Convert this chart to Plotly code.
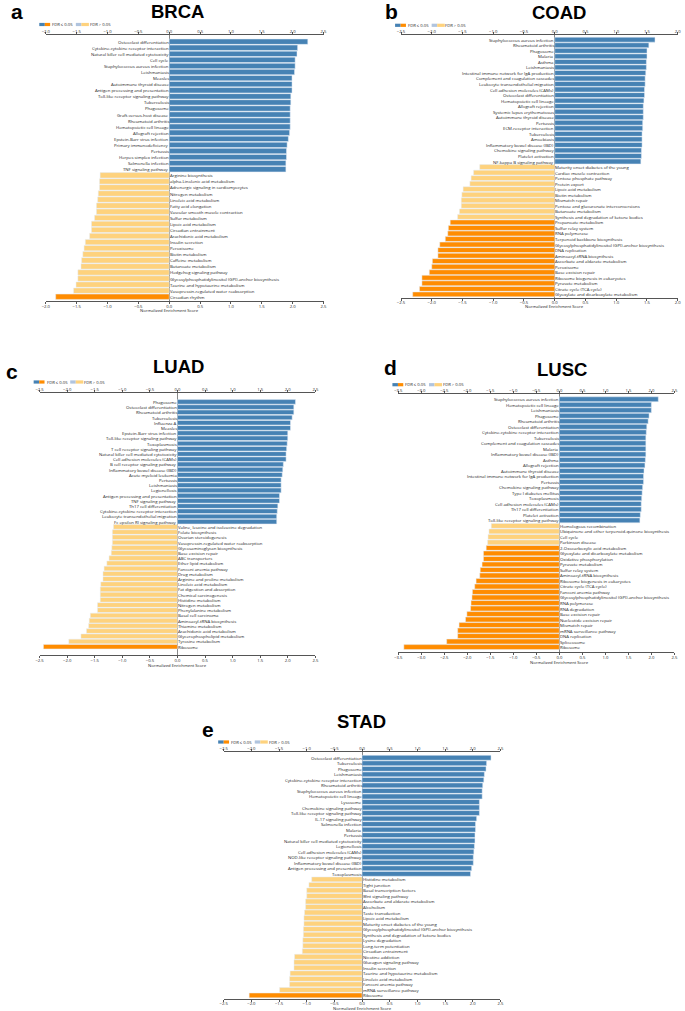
import plotly.graph_objects as go

W, H = 685, 1011
FONT = "Open Sans"
BLUE, LBLUE, ORANGE, LORANGE = "#4682B4", "#B0C4DE", "#FF8C00", "#FED27D"

# ---------------- data ----------------
brca_terms = ["Osteoclast differentiation", "Cytokine-cytokine receptor interaction",
              "Natural killer cell mediated cytotoxicity", "Cell cycle", "Staphylococcus aureus infection",
              "Leishmaniasis", "Measles", "Autoimmune thyroid disease", "Antigen processing and presentation",
              "Toll-like receptor signaling pathway", "Tuberculosis", "Phagosome", "Graft-versus-host disease",
              "Rheumatoid arthritis", "Hematopoietic cell lineage", "Allograft rejection",
              "Epstein-Barr virus infection", "Primary immunodeficiency", "Pertussis", "Herpes simplex infection",
              "Salmonella infection", "TNF signaling pathway", "Arginine biosynthesis",
              "alpha-Linolenic acid metabolism", "Adrenergic signaling in cardiomyocytes", "Nitrogen metabolism",
              "Linoleic acid metabolism", "Fatty acid elongation", "Vascular smooth muscle contraction",
              "Sulfur metabolism", "Lipoic acid metabolism", "Circadian entrainment", "Arachidonic acid metabolism",
              "Insulin secretion", "Peroxisome", "Biotin metabolism", "Caffeine metabolism", "Butanoate metabolism",
              "Hedgehog signaling pathway", "Glycosylphosphatidylinositol (GPI)-anchor biosynthesis",
              "Taurine and hypotaurine metabolism", "Vasopressin-regulated water reabsorption", "Circadian rhythm"]
brca_nes = [2.245, 2.08, 2.07, 2.04, 2.04, 2.03, 1.99, 1.99, 1.99, 1.97, 1.97, 1.96, 1.96, 1.96, 1.96, 1.95,
            1.93, 1.91, 1.90, 1.90, 1.89, 1.89, -1.12, -1.13, -1.13, -1.15, -1.16, -1.18, -1.18, -1.21, -1.26,
            -1.26, -1.29, -1.36, -1.38, -1.40, -1.42, -1.43, -1.48, -1.48, -1.51, -1.55, -1.84]
brca_sig = [1] * 22 + [0] * 20 + [1]

coad_terms = ["Staphylococcus aureus infection", "Rheumatoid arthritis", "Phagosome", "Malaria", "Asthma",
              "Leishmaniasis", "Intestinal immune network for IgA production", "Complement and coagulation cascades",
              "Leukocyte transendothelial migration", "Cell adhesion molecules (CAMs)", "Osteoclast differentiation",
              "Hematopoietic cell lineage", "Allograft rejection", "Systemic lupus erythematosus",
              "Autoimmune thyroid disease", "Pertussis", "ECM-receptor interaction", "Tuberculosis", "Amoebiasis",
              "Inflammatory bowel disease (IBD)", "Chemokine signaling pathway", "Platelet activation",
              "NF-kappa B signaling pathway", "Maturity onset diabetes of the young", "Cardiac muscle contraction",
              "Pentose phosphate pathway", "Protein export", "Lipoic acid metabolism", "Biotin metabolism",
              "Mismatch repair", "Pentose and glucuronate interconversions", "Butanoate metabolism",
              "Synthesis and degradation of ketone bodies", "Propanoate metabolism", "Sulfur relay system",
              "RNA polymerase", "Terpenoid backbone biosynthesis",
              "Glycosylphosphatidylinositol (GPI)-anchor biosynthesis", "DNA replication",
              "Aminoacyl-tRNA biosynthesis", "Ascorbate and aldarate metabolism", "Peroxisome",
              "Base excision repair", "Ribosome biogenesis in eukaryotes", "Pyruvate metabolism",
              "Citrate cycle (TCA cycle)", "Glyoxylate and dicarboxylate metabolism"]
coad_nes = [1.63, 1.53, 1.50, 1.50, 1.49, 1.49, 1.48, 1.47, 1.47, 1.46, 1.46, 1.45, 1.44, 1.44, 1.44, 1.43,
            1.43, 1.42, 1.42, 1.42, 1.41, 1.41, 1.40, -1.22, -1.32, -1.36, -1.38, -1.49, -1.51, -1.52, -1.52,
            -1.55, -1.58, -1.70, -1.73, -1.74, -1.78, -1.87, -1.90, -1.90, -1.99, -2.00, -2.04, -2.16, -2.16,
            -2.20, -2.31]
coad_sig = [1] * 23 + [0] * 10 + [1] * 14

luad_terms = ["Phagosome", "Osteoclast differentiation", "Rheumatoid arthritis", "Tuberculosis", "Influenza A",
              "Measles", "Epstein-Barr virus infection", "Toll-like receptor signaling pathway", "Toxoplasmosis",
              "T cell receptor signaling pathway", "Natural killer cell mediated cytotoxicity",
              "Cell adhesion molecules (CAMs)", "B cell receptor signaling pathway",
              "Inflammatory bowel disease (IBD)", "Acute myeloid leukemia", "Pertussis", "Leishmaniasis",
              "Legionellosis", "Antigen processing and presentation", "TNF signaling pathway",
              "Th17 cell differentiation", "Cytokine-cytokine receptor interaction",
              "Leukocyte transendothelial migration", "Fc epsilon RI signaling pathway",
              "Valine, leucine and isoleucine degradation", "Folate biosynthesis", "Ovarian steroidogenesis",
              "Vasopressin-regulated water reabsorption", "Glycosaminoglycan biosynthesis", "Base excision repair",
              "ABC transporters", "Ether lipid metabolism", "Fanconi anemia pathway", "Drug metabolism",
              "Arginine and proline metabolism", "Linoleic acid metabolism", "Fat digestion and absorption",
              "Chemical carcinogenesis", "Histidine metabolism", "Nitrogen metabolism", "Phenylalanine metabolism",
              "Basal cell carcinoma", "Aminoacyl-tRNA biosynthesis", "Thiamine metabolism",
              "Arachidonic acid metabolism", "Glycerophospholipid metabolism", "Tyrosine metabolism", "Ribosome"]
luad_nes = [2.14, 2.11, 2.11, 2.08, 2.05, 2.05, 2.00, 2.00, 1.99, 1.98, 1.97, 1.97, 1.92, 1.91, 1.90, 1.88,
            1.88, 1.88, 1.85, 1.85, 1.82, 1.81, 1.80, 1.80, -1.16, -1.18, -1.18, -1.18, -1.19, -1.20, -1.24,
            -1.28, -1.33, -1.35, -1.35, -1.39, -1.40, -1.40, -1.40, -1.45, -1.45, -1.58, -1.60, -1.61, -1.65,
            -1.75, -1.97, -2.43]
luad_sig = [1] * 24 + [0] * 23 + [1]

lusc_terms = ["Staphylococcus aureus infection", "Hematopoietic cell lineage", "Leishmaniasis", "Phagosome",
              "Rheumatoid arthritis", "Osteoclast differentiation", "Cytokine-cytokine receptor interaction",
              "Tuberculosis", "Complement and coagulation cascades", "Malaria", "Inflammatory bowel disease (IBD)",
              "Asthma", "Allograft rejection", "Autoimmune thyroid disease",
              "Intestinal immune network for IgA production", "Pertussis", "Chemokine signaling pathway",
              "Type I diabetes mellitus", "Toxoplasmosis", "Cell adhesion molecules (CAMs)",
              "Th17 cell differentiation", "Platelet activation", "Toll-like receptor signaling pathway",
              "Homologous recombination", "Ubiquinone and other terpenoid-quinone biosynthesis", "Cell cycle",
              "Parkinson disease", "2-Oxocarboxylic acid metabolism", "Glyoxylate and dicarboxylate metabolism",
              "Oxidative phosphorylation", "Pyruvate metabolism", "Sulfur relay system",
              "Aminoacyl-tRNA biosynthesis", "Ribosome biogenesis in eukaryotes", "Citrate cycle (TCA cycle)",
              "Fanconi anemia pathway", "Glycosylphosphatidylinositol (GPI)-anchor biosynthesis", "RNA polymerase",
              "RNA degradation", "Base excision repair", "Nucleotide excision repair", "Mismatch repair",
              "mRNA surveillance pathway", "DNA replication", "Spliceosome", "Ribosome"]
lusc_nes = [2.15, 2.00, 2.00, 1.95, 1.93, 1.90, 1.89, 1.88, 1.88, 1.88, 1.88, 1.87, 1.86, 1.84, 1.83, 1.83,
            1.81, 1.80, 1.79, 1.78, 1.78, 1.76, 1.75, -1.48, -1.53, -1.55, -1.56, -1.59, -1.65, -1.65, -1.68,
            -1.72, -1.73, -1.81, -1.84, -1.89, -1.90, -1.92, -1.93, -2.01, -2.04, -2.18, -2.21, -2.21, -2.45,
            -3.38]
lusc_sig = [1] * 23 + [0] * 4 + [1] * 19

stad_terms = ["Osteoclast differentiation", "Tuberculosis", "Phagosome", "Leishmaniasis",
              "Cytokine-cytokine receptor interaction", "Rheumatoid arthritis", "Staphylococcus aureus infection",
              "Hematopoietic cell lineage", "Lysosome", "Chemokine signaling pathway",
              "Toll-like receptor signaling pathway", "IL-17 signaling pathway", "Salmonella infection", "Malaria",
              "Pertussis", "Natural killer cell mediated cytotoxicity", "Legionellosis",
              "Cell adhesion molecules (CAMs)", "NOD-like receptor signaling pathway",
              "Inflammatory bowel disease (IBD)", "Antigen processing and presentation", "Toxoplasmosis",
              "Histidine metabolism", "Tight junction", "Basal transcription factors", "Wnt signaling pathway",
              "Ascorbate and aldarate metabolism", "Alcoholism", "Taste transduction", "Lipoic acid metabolism",
              "Maturity onset diabetes of the young", "Glycosylphosphatidylinositol (GPI)-anchor biosynthesis",
              "Synthesis and degradation of ketone bodies", "Lysine degradation", "Long-term potentiation",
              "Circadian entrainment", "Nicotine addiction", "Glucagon signaling pathway", "Insulin secretion",
              "Taurine and hypotaurine metabolism", "Linoleic acid metabolism", "Fanconi anemia pathway",
              "mRNA surveillance pathway", "Ribosome"]
stad_nes = [2.33, 2.25, 2.24, 2.21, 2.20, 2.18, 2.17, 2.17, 2.12, 2.12, 2.12, 2.07, 2.05, 2.05, 2.04, 2.04,
            2.03, 2.02, 2.01, 2.01, 1.98, 1.96, -0.91, -0.96, -1.00, -1.00, -1.02, -1.02, -1.04, -1.05, -1.05,
            -1.06, -1.06, -1.07, -1.07, -1.08, -1.22, -1.23, -1.23, -1.30, -1.31, -1.31, -1.49, -2.04]
stad_sig = [1] * 22 + [0] * 21 + [1]

legend_labels = ["FDR \u2264 0.05", "FDR > 0.05"]
axis_title = "Normalized Enrichment Score"

# ---------------- layout (pixel geometry) ----------------
panels = [
    dict(letter="a", title="BRCA", terms=brca_terms, nes=brca_nes, sig=brca_sig, xr=(-2.0, 2.5),
         xpx=(42.3, 323.3), top=35.0, bottom=301.0, pad_top=1.1, pad_bot=0.7, bstand=-1,
         title_xy=(176, 12), letter_xy=(13, 12), legend_xy=(35.7, 24.5), xtitle_y=310.5),
    dict(letter="b", title="COAD", terms=coad_terms, nes=coad_nes, sig=coad_sig, xr=(-2.5, 2.0),
         xpx=(401.7, 681.7), top=35.0, bottom=297.7, pad_top=0.85, pad_bot=0.6, bstand=-2,
         title_xy=(562, 13), letter_xy=(392, 12), legend_xy=(395.7, 25.3), xtitle_y=306.5),
    dict(letter="c", title="LUAD", terms=luad_terms, nes=luad_nes, sig=luad_sig, xr=(-2.5, 2.5),
         xpx=(36.0, 315.0), top=392.5, bottom=655.0, pad_top=1.8, pad_bot=1.6, bstand=-1,
         title_xy=(177, 366), letter_xy=(8, 371), legend_xy=(30, 382), xtitle_y=665.5),
    dict(letter="d", title="LUSC", terms=lusc_terms, nes=lusc_nes, sig=lusc_sig, xr=(-3.5, 2.5),
         xpx=(399.0, 678.3), top=394.0, bottom=652.0, pad_top=0.95, pad_bot=0.9, bstand=-1,
         title_xy=(565, 369.5), letter_xy=(391, 367), legend_xy=(393, 384.7), xtitle_y=662.5),
    dict(letter="e", title="STAD", terms=stad_terms, nes=stad_nes, sig=stad_sig, xr=(-2.5, 2.5),
         xpx=(222.3, 502.3), top=751.7, bottom=999.3, pad_top=1.1, pad_bot=0.7, bstand=-2,
         title_xy=(361.5, 721), letter_xy=(206, 729), legend_xy=(216.7, 742), xtitle_y=1008.6),
]


def fx(px):
    return px / W


def fy(py):
    return 1 - py / H


def color_of(v, s):
    if v >= 0:
        return BLUE if s else LBLUE
    return ORANGE if s else LORANGE


fig = go.Figure()
annotations = []
shapes = []
layout_axes = {}

axis_common = dict(showline=True, linecolor="#555", linewidth=0.8, ticks="outside", ticklen=2,
                   tickwidth=0.6, tickcolor="#555", dtick=0.5, tick0=0, tickformat=".1f",
                   tickfont=dict(family=FONT, size=4.2, color="#222"), showgrid=False, fixedrange=True)

for k, p in enumerate(panels, start=1):
    n = len(p["terms"])
    colors = [color_of(v, s) for v, s in zip(p["nes"], p["sig"])]
    xa, ya, xt = f"x{k}", f"y{k}", f"x{k + 5}"
    fig.add_trace(go.Bar(x=p["nes"], y=p["terms"], orientation="h", marker=dict(color=colors, line=dict(width=0)),
                         xaxis=xa, yaxis=ya, hoverinfo="x+y", showlegend=False))
    # transparent twin on the top axis so the top axis is rendered
    fig.add_trace(go.Bar(x=p["nes"], y=p["terms"], orientation="h", marker=dict(color="rgba(0,0,0,0)"),
                         xaxis=xt, yaxis=ya, hoverinfo="skip", showlegend=False))

    layout_axes[f"xaxis{k}"] = dict(axis_common, domain=[fx(p["xpx"][0]), fx(p["xpx"][1])],
                                    range=list(p["xr"]), anchor=ya, side="bottom",
                                    ticklabelstandoff=p["bstand"],
                                    zeroline=True, zerolinecolor="#888", zerolinewidth=0.8)
    layout_axes[f"xaxis{k + 5}"] = dict(axis_common, overlaying=xa, matches=xa, anchor=ya, side="top",
                                        range=list(p["xr"]), zeroline=False, ticklabelstandoff=-3)
    layout_axes[f"yaxis{k}"] = dict(domain=[fy(p["bottom"]), fy(p["top"])], type="category",
                                    categoryorder="array", categoryarray=p["terms"],
                                    range=[n - 1 + p["pad_bot"], -p["pad_top"]],
                                    showticklabels=False, showline=False, ticks="", showgrid=False,
                                    zeroline=False, fixedrange=True, anchor=xa)

    # pathway labels next to the zero line
    for t, v in zip(p["terms"], p["nes"]):
        annotations.append(dict(x=0, y=t, xref=xa, yref=ya, text=t, showarrow=False,
                                xanchor="right" if v >= 0 else "left", yanchor="middle",
                                xshift=-0.5 if v >= 0 else 0.5, borderpad=0, borderwidth=0,
                                font=dict(family=FONT, size=4.3, color="#222")))

    # axis title
    annotations.append(dict(x=0, y=fy(p["xtitle_y"]), xref=xa, yref="paper", text=axis_title,
                            showarrow=False, xanchor="center", yanchor="middle", borderpad=0, borderwidth=0,
                            font=dict(family=FONT, size=4.2, color="#222")))
    # panel title and letter
    annotations.append(dict(x=fx(p["title_xy"][0]), y=fy(p["title_xy"][1]), xref="paper", yref="paper",
                            text=f"<b>{p['title']}</b>", showarrow=False, xanchor="center", yanchor="middle",
                            font=dict(family="Liberation Sans", size=18.5, color="#000")))
    annotations.append(dict(x=fx(p["letter_xy"][0]), y=fy(p["letter_xy"][1]), xref="paper", yref="paper",
                            text=f"<b>{p['letter']}</b>", showarrow=False, xanchor="center", yanchor="middle",
                            font=dict(family="Liberation Sans", size=21, color="#000")))

    # legend
    lx, ly = p["legend_xy"]
    sw_h = 1.6
    for (x0, x1, c) in [(0, 5.6, BLUE), (5.6, 11.0, ORANGE), (37.0, 42.6, LBLUE), (42.6, 50.2, LORANGE)]:
        shapes.append(dict(type="rect", xref="paper", yref="paper", x0=fx(lx + x0), x1=fx(lx + x1),
                           y0=fy(ly + sw_h), y1=fy(ly - sw_h), fillcolor=c, line=dict(width=0)))
    for dx, lab in [(13.2, legend_labels[0]), (51.0, legend_labels[1])]:
        annotations.append(dict(x=fx(lx + dx), y=fy(ly), xref="paper", yref="paper", text=lab,
                                showarrow=False, xanchor="left", yanchor="middle", borderpad=0, borderwidth=0,
                                font=dict(family=FONT, size=4.2, color="#222")))

fig.update_layout(width=W, height=H, margin=dict(l=0, r=0, t=0, b=0), paper_bgcolor="white",
                  plot_bgcolor="white", bargap=0.12, showlegend=False, annotations=annotations,
                  shapes=shapes, **layout_axes)

fig.write_html("out.html", config={"displayModeBar": False},
               post_script="document.body.style.margin='0';document.body.style.overflow='hidden';")
